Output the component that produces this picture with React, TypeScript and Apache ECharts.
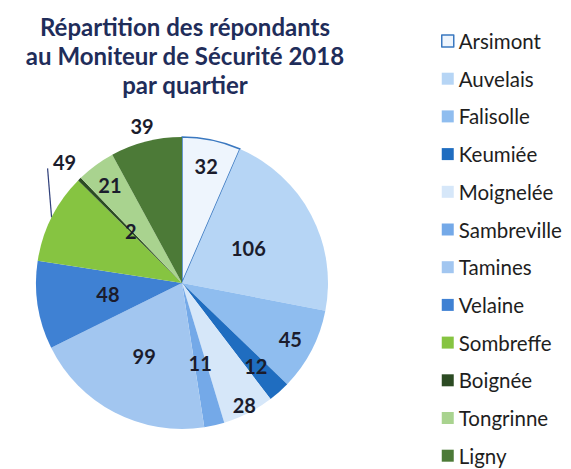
import React, { useEffect, useRef } from "react";
import * as echarts from "echarts";

const TITLE_LINES = ["Répartition des répondants", "au Moniteur de Sécurité 2018", "par quartier"];
const CATEGORIES = [
  "Arsimont", "Auvelais", "Falisolle", "Keumiée", "Moignelée", "Sambreville",
  "Tamines", "Velaine", "Sombreffe", "Boignée", "Tongrinne", "Ligny",
];
const VALUES = [32, 106, 45, 12, 28, 11, 99, 48, 49, 2, 21, 39];

// styles
const COLORS = [
  "#eef5fd", "#b6d5f5", "#8fbdef", "#1f6dc0", "#d6e7f9", "#74a9e8",
  "#a2c6f0", "#3f81d3", "#86c441", "#2c4b23", "#a9d38f", "#4c7a37",
];
// label distance from the centre for each slice (null = outside label with leader line)
const LABEL_RADIUS: (number | null)[] = [116, 72, 119, 108, 134, 79, 79, 72, null, 70, 119, 159];
const OUTSIDE_INDEX = 8;
const CENTER = [182, 283];
const RADIUS = 146;
const LABEL_FONT = { fontFamily: "Lato", fontWeight: "bold" as const, fontSize: 20, color: "#1b1c2c" };

export default function App() {
  const ref = useRef<HTMLDivElement>(null);
  useEffect(() => {
    if (!ref.current) return;
    const chart = echarts.init(ref.current, null, { renderer: "svg" });

    const mainData = CATEGORIES.map((name, i) => ({
      name,
      value: VALUES[i],
      itemStyle:
        i === 0
          ? { color: COLORS[i], borderColor: "#3a78c0", borderWidth: 1.5 }
          : { color: COLORS[i], borderWidth: 0 },
      label: { show: i === OUTSIDE_INDEX },
      labelLine: { show: i === OUTSIDE_INDEX },
    }));

    const radii = Array.from(new Set(LABEL_RADIUS.filter((r) => r !== null))) as number[];
    const labelSeries = radii.map((r) => ({
      type: "pie" as const,
      center: CENTER,
      radius: [0, r * 2],
      startAngle: 90,
      clockwise: true,
      silent: true,
      legendHoverLink: false,
      avoidLabelOverlap: false,
      emphasis: { disabled: true },
      z: 5,
      label: { show: true, position: "inside" as const, rotate: 0, formatter: "{c}", ...LABEL_FONT },
      labelLine: { show: false },
      data: CATEGORIES.map((name, i) => ({
        name,
        value: VALUES[i],
        itemStyle: { color: "rgba(0,0,0,0)", borderWidth: 0 },
        label: { show: LABEL_RADIUS[i] === r },
      })),
    }));

    chart.setOption({
      animation: false,
      backgroundColor: "#ffffff",
      title: {
        text: TITLE_LINES.join("\n"),
        left: 180,
        textAlign: "center",
        top: 7,
        textStyle: {
          fontFamily: "Lato",
          fontWeight: "bold",
          fontSize: 24,
          lineHeight: 29,
          color: "#1f2d5a",
        },
      },
      legend: {
        orient: "vertical",
        left: 441,
        top: 30,
        padding: 0,
        icon: "rect",
        itemWidth: 12,
        itemHeight: 12,
        itemGap: 15.7,
        selectedMode: false,
        textStyle: { fontFamily: "Lato", fontSize: 20.5, lineHeight: 22, color: "#1e1e1e" },
        data: CATEGORIES.map((name, i) =>
          i === 0
            ? { name, itemStyle: { color: COLORS[0], borderColor: "#3a78c0", borderWidth: 1.5 } }
            : { name, itemStyle: { color: COLORS[i], borderWidth: 0 } }
        ),
      },
      series: [
        {
          type: "pie",
          center: CENTER,
          radius: RADIUS,
          startAngle: 90,
          clockwise: true,
          avoidLabelOverlap: false,
          emphasis: { disabled: true },
          label: { position: "outside", formatter: "{c}", ...LABEL_FONT },
          labelLine: { length: 10, length2: 10, lineStyle: { color: "#2f3f7a", width: 1.2 } },
          labelLayout: (params: any) => {
            const pts = params.labelLinePoints;
            if (params.dataIndex !== OUTSIDE_INDEX || !pts) return {};
            const p0 = pts[0];
            return {
              x: p0[0] + 13,
              y: p0[1] - 55,
              align: "center",
              verticalAlign: "middle",
              labelLinePoints: [p0, [p0[0] - 4, p0[1] - 49], [p0[0] - 4, p0[1] - 49]],
            };
          },
          data: mainData,
        },
        ...labelSeries,
      ],
    });
    return () => chart.dispose();
  }, []);
  return (
    <div
      ref={ref}
      style={{ position: "fixed", left: 0, top: 0, width: 571, height: 469 }}
    />
  );
}
